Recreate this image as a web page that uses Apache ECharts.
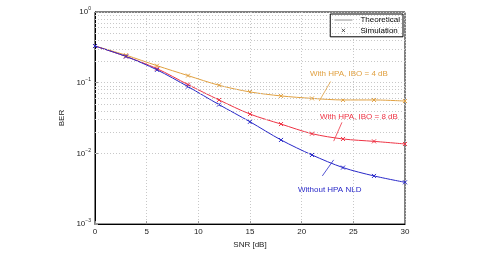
<!DOCTYPE html>
<html>
<head>
<meta charset="utf-8">
<script src="https://cdn.jsdelivr.net/npm/echarts@6/dist/echarts.min.js"></script>
<style>
  html, body { margin: 0; padding: 0; background: #fff; }
  #chart { width: 482px; height: 254px; }
</style>
</head>
<body>
<div id="chart"></div>
<script>
// SNR points (dB)
var snr = [0, 3, 6, 9, 12, 15, 18, 21, 24, 27, 30];
// BER curves
var berIbo4 = [0.33, 0.245, 0.174, 0.126, 0.092, 0.074, 0.065, 0.060, 0.057, 0.057, 0.055];
var berIbo8 = [0.33, 0.235, 0.158, 0.094, 0.057, 0.036, 0.026, 0.019, 0.016, 0.0148, 0.0136];
var berNoHpa = [0.33, 0.235, 0.152, 0.088, 0.049, 0.028, 0.0155, 0.0095, 0.0063, 0.0048, 0.0039];
var labels = ['With HPA, IBO = 4 dB', 'With HPA, IBO = 8 dB', 'Without HPA NLD'];

var cOrange = '#e0a040', cRed = '#ee3344', cBlue = '#2828c8';
var crossPath = 'path://M0,0L10,10M10,0L0,10';
var font = 'Liberation Sans, Arial, sans-serif';

// minor log grid lines 2..9 x 10^k
var minor = [];
[0.001, 0.01, 0.1].forEach(function (d) {
  for (var k = 2; k <= 9; k++) minor.push({ yAxis: +(d * k).toPrecision(3) });
});

function pairs(ys) {
  return snr.map(function (x, i) { return [x, ys[i]]; });
}

function curve(name, ys, color, pointer) {
  return {
    name: name,
    type: 'line',
    smooth: 0.3,
    data: pairs(ys),
    symbol: crossPath,
    symbolSize: 4,
    showSymbol: true,
    lineStyle: { color: color, width: 1 },
    itemStyle: { color: color, borderColor: color, borderWidth: 1 },
    emphasis: { disabled: true },
    markLine: {
      silent: true, symbol: 'none', label: { show: false },
      lineStyle: { color: color, width: 0.8, type: 'solid' },
      data: [[{ coord: pointer[0] }, { coord: pointer[1] }]]
    },
    z: 3
  };
}

var chart = echarts.init(document.getElementById('chart'));
var option = {
  animation: false,
  textStyle: { fontFamily: font },
  grid: { left: 95, right: 77, top: 12, bottom: 25, show: true, borderColor: '#000', borderWidth: 1 },
  legend: {
    right: 79, top: 14, orient: 'vertical',
    backgroundColor: '#fff', borderColor: '#000', borderWidth: 1,
    padding: [2, 3, 2, 4], itemGap: 2, itemWidth: 22, itemHeight: 8,
    textStyle: { fontSize: 8, color: '#000', padding: [0, 0, 0, 1] },
    data: [
      { name: 'Theoretical', icon: 'path://M0,0M0,4.5L22,4.5L22,5.3L0,5.3ZM22,9.8', itemStyle: { color: '#555', borderWidth: 0 } },
      { name: 'Simulation', icon: 'path://M0,0M9,3L13,7M13,3L9,7M22,10', itemStyle: { color: '#000', borderColor: '#000', borderWidth: 0.8 } }
    ]
  },
  xAxis: {
    type: 'value', min: 0, max: 30, interval: 5,
    name: 'SNR [dB]', nameLocation: 'middle', nameGap: 14,
    nameTextStyle: { fontSize: 8, color: '#222' },
    axisLine: { lineStyle: { color: '#000', width: 1 } },
    axisTick: { inside: true, length: 3, lineStyle: { color: '#999' } },
    axisLabel: { fontSize: 8, color: '#222', margin: 4 },
    splitLine: { show: true, lineStyle: { color: '#c8c8c8', type: [1, 2], width: 1 } }
  },
  yAxis: {
    type: 'log', logBase: 10, min: 0.001, max: 1,
    name: 'BER', nameLocation: 'middle', nameGap: 20,
    nameTextStyle: { fontSize: 8, color: '#222' },
    axisLine: { lineStyle: { color: '#000', width: 1 } },
    axisTick: { inside: true, length: 3, lineStyle: { color: '#999' } },
    axisLabel: {
      fontSize: 8, color: '#222', margin: 4,
      formatter: function (v) {
        var e = Math.round(Math.log10(v));
        return '{b|10}{s|' + (e === 0 ? '0' : '\u2212' + (-e)) + '}';
      },
      rich: {
        b: { fontSize: 8, color: '#222' },
        s: { fontSize: 5, color: '#222', padding: [0, 0, 6, 0] }
      }
    },
    splitLine: { show: true, lineStyle: { color: '#c8c8c8', type: [1, 2], width: 1 } }
  },
  series: [
    {
      name: 'grid-minor', type: 'line', data: [], silent: true,
      markLine: {
        silent: true, symbol: 'none', label: { show: false },
        lineStyle: { color: '#c8c8c8', type: [1, 2], width: 1 },
        data: minor
      },
      z: 1
    },
    curve(labels[0], berIbo4, cOrange, [[22.8, 0.104], [21.7, 0.055]]),
    curve(labels[1], berIbo8, cRed, [[23.9, 0.0275], [23.1, 0.0149]]),
    curve(labels[2], berNoHpa, cBlue, [[23.1, 0.0081], [22.0, 0.0048]]),
    { name: 'Theoretical', type: 'line', data: [], symbol: 'none', lineStyle: { color: '#555', width: 1 }, itemStyle: { color: '#555' } },
    { name: 'Simulation', type: 'scatter', data: [], symbol: crossPath, symbolSize: 4,
      itemStyle: { color: '#000', borderColor: '#000', borderWidth: 1 } }
  ],
  graphic: [
    { type: 'text', left: 310, top: 70, style: { text: labels[0], fill: cOrange, fontSize: 8, fontFamily: font } },
    { type: 'text', left: 320, top: 113, style: { text: labels[1], fill: cRed, fontSize: 8, fontFamily: font } },
    { type: 'text', left: 298, top: 186, style: { text: labels[2], fill: cBlue, fontSize: 8, fontFamily: font } }
  ]
};
chart.setOption(option);
</script>
</body>
</html>
